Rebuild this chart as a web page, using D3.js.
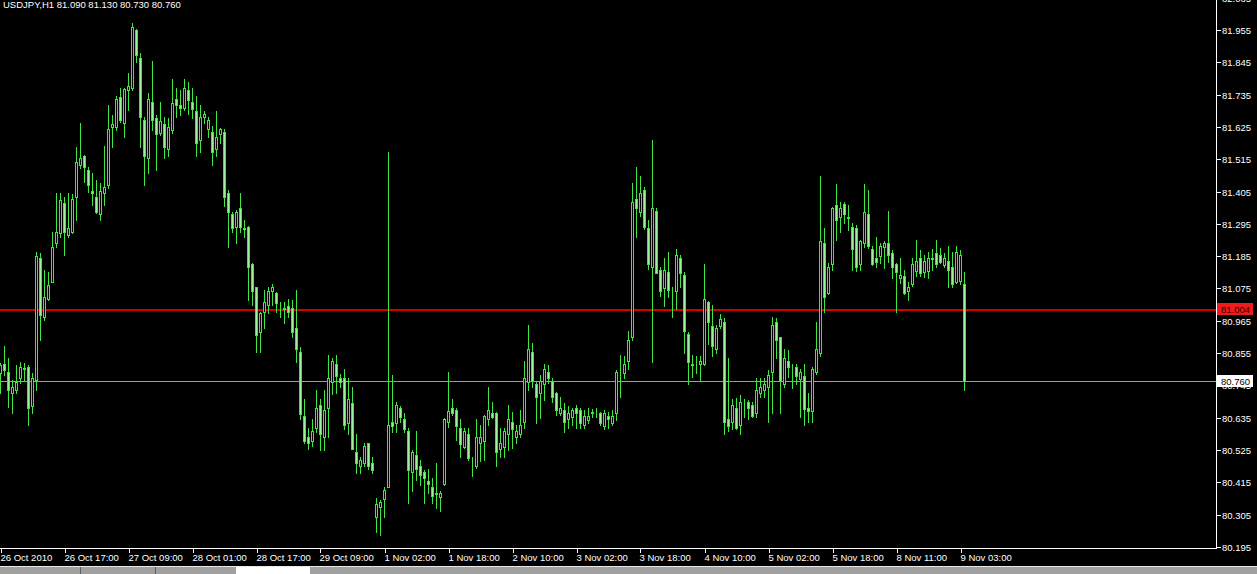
<!DOCTYPE html>
<html><head><meta charset="utf-8">
<script src="https://cdn.jsdelivr.net/npm/d3@7"></script>
<style>html,body{margin:0;padding:0;background:#000;overflow:hidden}</style>
</head><body><svg id="c" width="1257" height="574"></svg>
<script>
const openP = [80.786,80.817,80.792,80.718,80.729,80.769,80.803,80.809,80.675,80.763,81.178,80.979,81.038,81.098,81.229,81.263,81.367,81.257,81.268,81.387,81.495,81.527,81.478,81.408,81.387,81.327,81.399,81.427,81.626,81.626,81.728,81.637,81.751,81.756,81.955,81.858,81.649,81.518,81.709,81.656,81.605,81.635,81.549,81.614,81.719,81.700,81.688,81.751,81.711,81.679,81.580,81.658,81.617,81.607,81.549,81.600,81.607,81.399,81.329,81.285,81.348,81.281,81.285,81.157,81.079,80.928,80.996,81.019,81.068,81.059,81.020,81.008,81.016,81.007,80.940,80.858,80.641,80.568,80.557,80.599,80.678,80.568,80.667,80.758,80.817,80.769,80.769,80.618,80.686,80.518,80.470,80.480,80.548,80.480,80.298,80.330,80.357,80.398,80.619,80.618,80.669,80.631,80.590,80.449,80.508,80.470,80.449,80.420,80.398,80.378,80.366,80.408,80.620,80.667,80.662,80.599,80.536,80.579,80.492,80.470,80.548,80.557,80.631,80.650,80.650,80.528,80.536,80.579,80.620,80.568,80.579,80.620,80.758,80.858,80.749,80.718,80.749,80.792,80.760,80.718,80.650,80.662,80.630,80.639,80.667,80.662,80.610,80.627,80.653,80.659,80.650,80.608,80.641,80.618,80.650,80.782,80.788,80.828,80.909,81.379,81.336,81.410,81.280,81.147,81.339,81.138,81.078,81.132,81.060,81.068,81.180,81.121,80.919,80.818,80.812,80.817,80.817,81.028,80.948,80.868,80.948,80.960,80.630,80.620,80.667,80.610,80.679,80.688,80.678,80.650,80.718,80.730,80.741,80.790,80.960,80.909,80.749,80.828,80.802,80.809,80.767,80.778,80.669,80.659,80.790,80.856,81.229,81.059,81.157,81.359,81.319,81.362,81.317,81.285,81.280,81.157,81.229,81.328,81.208,81.178,81.187,81.217,81.229,81.197,81.157,81.110,81.119,81.068,81.090,81.136,81.178,81.132,81.136,81.178,81.197,81.189,81.155,81.169,81.147,81.098,81.101,81.090];
const highP = [80.820,80.879,80.837,80.763,80.814,80.826,80.820,80.814,80.786,81.200,81.195,81.138,81.132,81.268,81.399,81.399,81.387,81.399,81.397,81.558,81.637,81.529,81.490,81.467,81.444,81.433,81.560,81.700,81.666,81.730,81.756,81.756,81.807,81.978,81.957,81.878,81.660,81.739,81.849,81.666,81.710,81.658,81.656,81.787,81.756,81.751,81.787,81.779,81.756,81.730,81.700,81.679,81.658,81.628,81.679,81.622,81.618,81.410,81.336,81.342,81.399,81.308,81.288,81.161,81.081,80.996,81.070,81.081,81.090,81.064,81.030,81.030,81.039,81.036,81.070,80.877,80.699,80.599,80.630,80.730,80.698,80.730,80.849,80.839,80.849,80.783,80.801,80.769,80.741,80.580,80.502,80.550,80.550,80.500,80.361,80.355,80.400,81.541,80.781,80.690,80.675,80.650,80.599,80.525,80.590,80.491,80.457,80.460,80.429,80.480,80.387,80.633,80.792,80.699,80.667,80.631,80.599,80.599,80.502,80.631,80.610,80.644,80.739,80.688,80.654,80.601,80.599,80.678,80.656,80.610,80.662,80.828,80.951,80.889,80.760,80.781,80.817,80.815,80.769,80.724,80.707,80.684,80.675,80.667,80.678,80.667,80.662,80.667,80.664,80.667,80.656,80.662,80.656,80.662,80.797,80.849,80.845,80.931,81.433,81.490,81.458,81.422,81.308,81.580,81.348,81.149,81.180,81.200,81.081,81.209,81.189,81.132,80.928,80.849,80.845,80.846,81.158,81.034,81.019,80.951,80.987,80.976,80.837,80.698,80.703,80.713,80.698,80.695,80.690,80.769,80.769,80.769,80.797,80.979,80.976,80.911,80.869,80.866,80.817,80.817,80.800,80.817,80.718,80.809,80.960,81.458,81.280,81.161,81.351,81.431,81.371,81.368,81.359,81.297,81.291,81.240,81.430,81.410,81.220,81.251,81.229,81.238,81.340,81.206,81.161,81.178,81.138,81.098,81.178,81.240,81.206,81.189,81.198,81.208,81.240,81.212,81.195,81.220,81.200,81.220,81.206,81.130];
const lowP = [80.718,80.780,80.672,80.650,80.718,80.752,80.763,80.610,80.650,80.729,80.899,80.967,81.036,81.098,81.217,81.251,81.189,81.251,81.263,81.308,81.484,81.439,81.405,81.359,81.331,81.308,81.359,81.416,81.558,81.614,81.643,81.592,81.683,81.751,81.847,81.558,81.427,81.467,81.614,81.478,81.597,81.518,81.527,81.603,81.658,81.666,81.683,81.668,81.654,81.526,81.538,81.637,81.591,81.495,81.527,81.569,81.356,81.217,81.268,81.229,81.268,81.251,81.036,81.019,80.858,80.858,80.939,80.991,81.019,80.996,80.977,80.959,80.979,80.909,80.826,80.631,80.548,80.528,80.539,80.588,80.525,80.525,80.568,80.716,80.718,80.741,80.597,80.580,80.528,80.448,80.448,80.470,80.462,80.446,80.247,80.236,80.298,80.398,80.588,80.588,80.620,80.588,80.346,80.387,80.423,80.406,80.346,80.378,80.344,80.327,80.319,80.406,80.605,80.644,80.560,80.502,80.531,80.491,80.438,80.465,80.489,80.491,80.610,80.633,80.470,80.502,80.502,80.525,80.531,80.548,80.570,80.599,80.730,80.741,80.618,80.633,80.695,80.752,80.690,80.644,80.644,80.588,80.599,80.610,80.599,80.601,80.599,80.616,80.639,80.639,80.610,80.597,80.599,80.610,80.627,80.707,80.769,80.800,80.900,81.249,81.323,81.276,81.140,80.826,81.127,81.050,81.016,81.047,80.977,81.005,81.079,80.856,80.749,80.775,80.788,80.760,80.815,80.886,80.845,80.856,80.942,80.579,80.590,80.597,80.597,80.579,80.639,80.631,80.637,80.639,80.707,80.707,80.620,80.650,80.837,80.650,80.741,80.775,80.737,80.749,80.639,80.610,80.622,80.620,80.784,80.846,80.996,81.056,81.138,81.240,81.268,81.297,81.274,81.138,81.136,81.138,81.217,81.212,81.155,81.147,81.161,81.146,81.166,81.110,80.996,81.093,81.056,81.036,81.084,81.119,81.118,81.115,81.110,81.138,81.147,81.163,81.149,81.079,81.081,81.093,81.089,80.730];
const closeP = [80.814,80.797,80.729,80.740,80.758,80.809,80.800,80.667,80.769,81.187,80.985,81.047,81.087,81.217,81.268,81.376,81.268,81.280,81.378,81.507,81.518,81.487,81.427,81.399,81.336,81.408,81.419,81.617,81.635,81.719,81.649,81.754,81.765,81.966,81.870,81.660,81.527,81.719,81.649,81.600,81.646,81.558,81.626,81.708,81.700,81.688,81.756,81.717,81.685,81.570,81.658,81.668,81.649,81.539,81.590,81.617,81.388,81.336,81.280,81.336,81.285,81.279,81.147,81.068,80.917,80.991,81.028,81.068,81.079,81.027,81.018,81.006,80.996,80.928,80.868,80.648,80.557,80.548,80.590,80.667,80.579,80.663,80.769,80.828,80.777,80.758,80.610,80.699,80.528,80.480,80.491,80.539,80.470,80.457,80.341,80.347,80.389,80.610,80.608,80.678,80.639,80.597,80.457,80.518,80.461,80.440,80.429,80.408,80.369,80.376,80.380,80.631,80.659,80.650,80.608,80.546,80.590,80.499,80.490,80.568,80.570,80.641,80.662,80.639,80.518,80.548,80.590,80.631,80.597,80.590,80.610,80.769,80.868,80.760,80.707,80.760,80.800,80.769,80.707,80.662,80.669,80.620,80.650,80.662,80.650,80.618,80.641,80.641,80.652,80.657,80.618,80.650,80.630,80.641,80.790,80.780,80.818,80.900,81.368,81.348,81.401,81.285,81.157,81.348,81.129,81.068,81.138,81.070,81.058,81.189,81.129,80.930,80.826,80.816,80.810,80.828,81.038,80.960,80.879,80.940,80.970,80.620,80.608,80.678,80.601,80.688,80.677,80.667,80.641,80.730,80.739,80.750,80.781,80.951,80.898,80.761,80.837,80.809,80.800,80.778,80.792,80.665,80.659,80.800,80.868,81.238,81.047,81.147,81.348,81.308,81.348,81.328,81.315,81.208,81.147,81.238,81.336,81.220,81.157,81.166,81.220,81.229,81.189,81.147,81.130,81.121,81.059,81.079,81.157,81.169,81.129,81.169,81.178,81.175,81.157,81.166,81.180,81.138,81.089,81.198,81.189,80.760];

const priceTicks = ["82.065","81.955","81.845","81.735","81.625","81.515","81.405","81.295","81.185","81.075","80.965","80.855","80.745","80.635","80.525","80.415","80.305","80.195"];
const timeLabels = ["26 Oct 2010","26 Oct 17:00","27 Oct 09:00","28 Oct 01:00","28 Oct 17:00","29 Oct 09:00","1 Nov 02:00","1 Nov 18:00","2 Nov 10:00","3 Nov 02:00","3 Nov 18:00","4 Nov 10:00","5 Nov 02:00","5 Nov 18:00","8 Nov 11:00","9 Nov 03:00"];
const timeLabelBars = [0,16,32,48,64,80,96,112,128,144,160,176,192,208,224,240];
const symbolTitle = "USDJPY,H1";
const lastOHLC = ["81.090","81.130","80.730","80.760"];
const redLineLevel = 81.004;
const bidLevel = 80.760;

const W = 1257, H = 574;
const axisX = 1216.5, axisY = 548.5;
const FONT = "'Liberation Sans', Arial, sans-serif";
const GREEN = "#42e642";
const BEAR_FILL = "#9ff09a";

const svg = d3.select("#c");
svg.append("rect").attr("width", W).attr("height", H).attr("fill", "#000");

const x = d3.scaleLinear().domain([0, openP.length - 1]).range([0.5, 4 * (openP.length - 1) + 0.5]);
const y = d3.scaleLinear().domain([80.195, 81.955]).range([547, 30]);
const py = v => Math.round(y(v)) + 0.5;

const plot = svg.append("g").attr("shape-rendering", "crispEdges");
const data = openP.map((o, i) => ({i, o, h: highP[i], l: lowP[i], c: closeP[i]}));

// horizontal lines
const ry = Math.round(y(redLineLevel)) + 1;
plot.append("line").attr("x1", 0).attr("x2", axisX).attr("y1", ry).attr("y2", ry)
  .attr("stroke", "#d40000").attr("stroke-width", 2);
plot.append("line").attr("x1", 0).attr("x2", axisX).attr("y1", py(bidLevel)).attr("y2", py(bidLevel))
  .attr("stroke", "#9c9c9c").attr("stroke-width", 1);

const g = plot.selectAll("g.cd").data(data).join("g").attr("class", "cd");
g.append("line")
  .attr("x1", d => x(d.i)).attr("x2", d => x(d.i))
  .attr("y1", d => py(d.h) - 0.5).attr("y2", d => py(d.l) + 0.5)
  .attr("stroke", GREEN).attr("stroke-width", 1);
g.append("rect")
  .attr("x", d => x(d.i) - 1)
  .attr("width", 2)
  .attr("y", d => py(Math.max(d.o, d.c)))
  .attr("height", d => Math.max(0, py(Math.min(d.o, d.c)) - py(Math.max(d.o, d.c))))
  .attr("fill", d => d.c >= d.o ? "#000" : BEAR_FILL)
  .attr("stroke", GREEN).attr("stroke-width", 1);

// axes lines
const ax = svg.append("g").attr("shape-rendering", "crispEdges");
ax.append("line").attr("x1", axisX).attr("x2", axisX).attr("y1", 0).attr("y2", axisY).attr("stroke", "#fff");
ax.append("line").attr("x1", 0).attr("x2", axisX).attr("y1", axisY).attr("y2", axisY).attr("stroke", "#fff");

// price axis
priceTicks.forEach(t => {
  const yy = py(+t);
  ax.append("line").attr("x1", axisX).attr("x2", axisX + 4).attr("y1", yy).attr("y2", yy).attr("stroke", "#fff");
  svg.append("text").attr("x", 1222).attr("y", yy + 3.5).attr("fill", "#fff")
    .attr("font-family", FONT).attr("font-size", "9.5px").text(t);
});

// time axis
timeLabelBars.forEach((b, k) => {
  const xx = Math.round(x(b)) + 0.5;
  ax.append("line").attr("x1", xx).attr("x2", xx).attr("y1", axisY).attr("y2", axisY + 4).attr("stroke", "#fff");
  svg.append("text").attr("x", xx - 1).attr("y", 561).attr("fill", "#fff")
    .attr("font-family", FONT).attr("font-size", "9.5px").text(timeLabels[k]);
});

// price label boxes
function priceBox(level, fill, textFill) {
  const yy = py(level);
  svg.append("rect").attr("x", 1217).attr("y", yy - 6.5).attr("width", 36).attr("height", 12).attr("fill", fill);
  svg.append("text").attr("x", 1221).attr("y", yy + 3.5).attr("fill", textFill)
    .attr("font-family", FONT).attr("font-size", "9.5px").text(level.toFixed(3));
}
priceBox(redLineLevel, "#ee1c1c", "#3a0000");
priceBox(bidLevel, "#ffffff", "#000000");

// title
svg.append("text").attr("x", 3).attr("y", 8).attr("fill", "#fff")
  .attr("font-family", FONT).attr("font-size", "9.5px")
  .text(symbolTitle + "  " + lastOHLC.join(" "));

// bottom tab strip
svg.append("rect").attr("x", 0).attr("y", 567).attr("width", W).attr("height", 7).attr("fill", "#a0a0a0");
svg.append("line").attr("x1", 0).attr("x2", W).attr("y1", 566.5).attr("y2", 566.5).attr("stroke", "#e8e8e8");
svg.append("rect").attr("x", 236).attr("y", 567).attr("width", 74).attr("height", 7).attr("fill", "#ffffff");
[80, 155].forEach(sx => svg.append("line").attr("x1", sx + 0.5).attr("x2", sx + 0.5).attr("y1", 567).attr("y2", 574).attr("stroke", "#606060"));
</script>
</body></html>
